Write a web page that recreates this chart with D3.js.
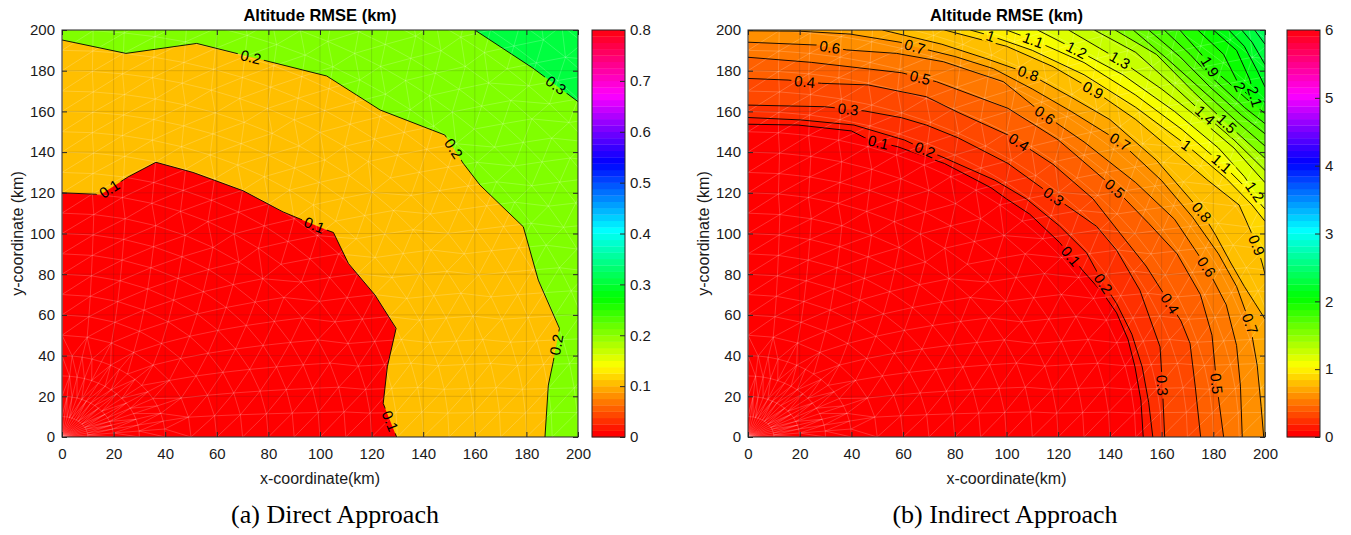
<!DOCTYPE html>
<html>
<head>
<meta charset="utf-8">
<script src="https://cdn.jsdelivr.net/npm/d3@7/dist/d3.min.js"></script>
<style>
  body { margin: 0; background: #fff; }
  svg text { font-family: "Liberation Sans", Arial, sans-serif; }
  svg text.caption { font-family: "Liberation Serif", "Times New Roman", serif; }
</style>
</head>
<body>
<svg id="chart" width="1351" height="535"></svg>
<script>
const axisTicks = [0, 20, 40, 60, 80, 100, 120, 140, 160, 180, 200];

// (a) direct approach: contour levels, traced contour lines [x, y] in km, label spots
const directLevels = [0.1, 0.2, 0.3];
const directLines = [
  [[0,120],[15,119.2],[25.6,127.8],[36.4,135],[50.8,130],[70.2,121],[85.7,110.6],[102.6,101.7],[105.2,100.5],[111,85.3],[121.3,69.8],[129.5,53.4],[126.1,34.5],[124.5,16.5],[129.7,0]],
  [[0,195.1],[24.8,188.5],[52.2,193.4],[102.6,177.4],[123.3,160.7],[148.4,148.4],[155.5,134.5],[162,123.8],[178.8,103.3],[184.6,77.1],[192.8,53.4],[190.4,37],[188.5,25.5],[187.2,0]],
  [[160,200],[182.6,181.2],[200,164.8]]
];
const directLabels = [
  [0.1, 18.6, 121.4], [0.1, 98, 104.7], [0.1, 126.5, 7.5],
  [0.2, 72.9, 185.3], [0.2, 151, 141], [0.2, 192.4, 45.2],
  [0.3, 191, 172.1]
];
const directBarTicks = [0, 0.1, 0.2, 0.3, 0.4, 0.5, 0.6, 0.7, 0.8];

// (b) indirect approach
const indirectLevels = [0.1,0.2,0.3,0.4,0.5,0.6,0.7,0.8,0.9,1.0,1.1,1.2,1.3,1.4,1.5,1.6,1.7,1.8,1.9,2.0,2.1,2.2,2.3,2.4];
const indirectLines = [
  [[0,153.7],[19.4,153.3],[40,150.4],[45,147.2],[50,145],[58,142.6],[76,134.4],[94,122.5],[100,117],[109,109.5],[120.6,95.5],[129.7,81.5],[137.4,70.5],[142.6,61],[147,48],[149.7,34.5],[152,18],[152.9,0]],
  [[0,157],[20.5,155.8],[41,153.3],[60.6,145.9],[68.4,141.2],[75,137.7],[95.5,126.2],[107.7,117],[120.6,103.6],[131,90.5],[137.4,75.6],[142.6,65.6],[148.5,50.5],[152.5,34.4],[155,17],[156.6,0]],
  [[0,163.1],[29.7,162.3],[45.2,160.2],[59.4,156.9],[69,153.3],[81.3,147],[100.6,134.4],[119,117.5],[134.8,103.6],[142.6,91.8],[151.6,72.1],[159.4,44.3],[160.3,25.4],[161.2,0]],
  [[0,176.2],[15.5,175.4],[28.4,173.8],[46.5,173],[69,167.2],[81.3,159.5],[100.6,148.4],[118,134],[133.5,117],[144,100],[154,84],[163.2,65.6],[167.5,57],[171,46],[173,25],[175.1,0]],
  [[0,186.6],[24.5,184.1],[59.4,179],[72.9,174.6],[100.6,161.5],[120,146],[141.9,122.1],[155,105],[166,90],[175,70],[179.5,50],[181.3,26],[184,0]],
  [[0,194],[26.6,192.6],[38.2,190.2],[57.5,188.5],[75.6,184.4],[98.8,174.6],[114.5,158.5],[130,145],[150,125],[165,107],[177.4,83.6],[185,65],[189,45],[190.5,25],[191.2,0]],
  [[0,199.6],[20.1,199.4],[39.5,198],[58.8,194],[64.5,191.8],[80,187],[95,181],[110,171],[125,160],[143.9,145.1],[160,126],[172,108],[182,90],[189,74],[194.2,55.7],[197,35],[198.5,15],[199.5,0]],
  [[52,200],[75,193],[92,186],[108.4,178.7],[125,167],[140,156],[158,136],[175.5,110.5],[181,99],[187,85],[192,74],[196,66],[200,58]],
  [[76,200],[100,192],[118,182],[133.5,170.5],[150,156],[165,140],[178,126],[190,114],[193.5,104],[196.8,94.3],[199,85],[200,80]],
  [[86,200],[93,197.5],[110,190],[130,178],[150,162],[169.7,143.4],[185,127],[195,114],[200,106]],
  [[100,200],[110.3,195.1],[130,184],[150,168],[168,151],[183.2,134.4],[193,122],[200,112]],
  [[112,200],[127.1,190.2],[145,178],[165,160],[182,142],[192,128],[196.1,120.5],[200,116]],
  [[124,200],[143.9,185.2],[160,171],[175,156],[188,142],[200,125]],
  [[134,200],[150,189],[165,172],[176.8,158.2],[188,146],[200,131]],
  [[142,200],[158,188],[172,170],[185.2,154.1],[200,137]],
  [[149,200],[162,186],[178.7,167],[190,154],[200,143]],
  [[155,200],[167,187],[178.7,172],[191,158],[200,149]],
  [[161,200],[171,188],[178.7,177.5],[192,162],[200,154]],
  [[167,200],[176.8,186],[178.7,182],[186,174],[193,166],[200,159]],
  [[174,200],[184,188],[190.3,172.1],[195,166],[200,162]],
  [[180,200],[189,190],[194,176],[196.1,167.2],[200,164.5]],
  [[186,200],[192,192],[197,180],[200,172]],
  [[191,200],[195,194],[200,183]],
  [[196,200],[200,193]]
];
const indirectLabels = [
  [0.6, 31.6, 191], [0.4, 21.9, 173.8], [0.3, 38.7, 160.7], [0.1, 50.3, 144.3],
  [0.2, 68.4, 141], [0.5, 66.5, 176.2], [0.7, 64.5, 191.8], [1.0, 94, 197.5],
  [1.1, 110.3, 195.1], [1.2, 127.1, 190.2], [1.3, 143.9, 185.2], [1.9, 178.7, 182],
  [2.0, 190.3, 172.1], [2.1, 196.1, 167.2], [0.8, 108.4, 178.7], [0.9, 133.5, 170.5],
  [1.4, 176.8, 158.2], [1.5, 185.2, 154.1], [0.6, 114.8, 158.2], [0.4, 104.5, 144.3],
  [0.7, 143.9, 145.1], [1.0, 169.7, 143.4], [1.1, 183.2, 134.4], [1.2, 196.1, 120.5],
  [0.3, 118.1, 118], [0.5, 141.9, 122.1], [0.8, 175.5, 110.5], [0.1, 124.5, 88.5],
  [0.2, 137.4, 75.4], [0.4, 163.2, 65.6], [0.6, 177.4, 83.6], [0.9, 196.8, 94.3],
  [0.7, 194.2, 55.7], [0.3, 160, 25.4], [0.5, 181.3, 26.2]
];
const indirectBarTicks = [0, 1, 2, 3, 4, 5, 6];

// triangulated sample rings (km) and node count per quarter ring
const meshRadii = [10,20,30,40,50,60,70,80,90,100,110,120,130,140,150,160,170,180,190,200,210,220,230,240,250,260,270,280,290];
const meshCounts = [17,17,17,17,9,10,11,12,13,14,15,17,18,19,21,22,23,25,26,27,28,30,31,32,34,35,36,38,39];

const svg = d3.select("#chart");
const defs = svg.append("defs");
const plotTop = 30, plotBottom = 437;
const fmt = d => String(+d.toFixed(1));

function bandColor(v, vmax) {
  const i = Math.max(0, Math.min(63, Math.floor(v / vmax * 64 + 1e-9)));
  return d3.hsl(i * 360 / 64, 1, 0.5).formatHex();
}

const meshPoints = [[0, 0]];
meshRadii.forEach((r, k) => {
  const n = meshCounts[k];
  for (let j = 0; j < n; j++) {
    const a = (Math.PI / 2) * j / (n - 1);
    meshPoints.push([r * Math.cos(a), r * Math.sin(a)]);
  }
});
const meshDelaunay = d3.Delaunay.from(meshPoints);

function panel(p) {
  const x = d3.scaleLinear().domain([0, 200]).range([p.left, p.right]);
  const y = d3.scaleLinear().domain([0, 200]).range([plotBottom, plotTop]);
  const g = svg.append("g");

  defs.append("clipPath").attr("id", p.id + "-clip")
    .append("rect").attr("x", p.left).attr("y", plotTop)
    .attr("width", p.right - p.left).attr("height", plotBottom - plotTop);

  const plot = g.append("g").attr("clip-path", `url(#${p.id}-clip)`);
  plot.append("rect").attr("x", p.left).attr("y", plotTop)
    .attr("width", p.right - p.left).attr("height", plotBottom - plotTop)
    .attr("fill", bandColor(0, p.vmax));

  // filled bands: everything beyond each contour line toward the far corner
  const line = d3.line().x(d => x(d[0])).y(d => y(d[1]));
  const outside = [[300, -100], [300, 300], [-100, 300]];
  p.levels.forEach((lv, i) => {
    plot.append("path")
      .attr("d", line(p.lines[i].concat(outside)) + "Z")
      .attr("fill", bandColor(lv, p.vmax));
  });

  // faint triangle mesh
  const mesh = d3.path();
  meshDelaunay.render({
    moveTo: (a, b) => mesh.moveTo(x(a), y(b)),
    lineTo: (a, b) => mesh.lineTo(x(a), y(b)),
    closePath: () => mesh.closePath()
  });
  plot.append("path").attr("d", mesh.toString())
    .attr("fill", "none").attr("stroke", "#fff")
    .attr("stroke-opacity", 0.28).attr("stroke-width", 0.7);

  // grid
  plot.append("g").selectAll("line").data(axisTicks).join("line")
    .attr("x1", d => x(d)).attr("x2", d => x(d)).attr("y1", plotTop).attr("y2", plotBottom)
    .attr("stroke", "#262626").attr("stroke-opacity", 0.15);
  plot.append("g").selectAll("line").data(axisTicks).join("line")
    .attr("y1", d => y(d)).attr("y2", d => y(d)).attr("x1", p.left).attr("x2", p.right)
    .attr("stroke", "#262626").attr("stroke-opacity", 0.15);

  // contour lines, broken where labels sit
  const mask = defs.append("mask").attr("id", p.id + "-mask")
    .attr("maskUnits", "userSpaceOnUse")
    .attr("x", 0).attr("y", 0).attr("width", 1351).attr("height", 535);
  mask.append("rect").attr("width", 1351).attr("height", 535).attr("fill", "#fff");

  plot.append("g").attr("mask", `url(#${p.id}-mask)`)
    .selectAll("path").data(p.lines).join("path")
    .attr("d", line).attr("fill", "none")
    .attr("stroke", "#000").attr("stroke-width", 0.9);

  const labelG = plot.append("g");
  p.labels.forEach(([lv, lx, ly]) => {
    const pts = p.lines[p.levels.indexOf(lv)].map(d => [x(d[0]), y(d[1])]);
    const tx = x(lx), ty = y(ly);
    let best = null;
    for (let k = 0; k < pts.length - 1; k++) {
      const [ax, ay] = pts[k], [bx, by] = pts[k + 1];
      const dx = bx - ax, dy = by - ay;
      const len = dx * dx + dy * dy;
      if (!len) continue;
      const t = Math.max(0, Math.min(1, ((tx - ax) * dx + (ty - ay) * dy) / len));
      const px = ax + t * dx, py = ay + t * dy;
      const dist = (px - tx) ** 2 + (py - ty) ** 2;
      if (!best || dist < best.dist) best = { dist, px, py, ang: Math.atan2(dy, dx) * 180 / Math.PI };
    }
    let ang = best.ang;
    if (ang > 90) ang -= 180;
    if (ang < -90) ang += 180;
    const tr = `translate(${best.px},${best.py}) rotate(${ang})`;
    const txt = labelG.append("text").attr("transform", tr)
      .attr("text-anchor", "middle").attr("dy", "0.36em")
      .attr("font-size", 15).attr("fill", "#000").text(fmt(lv));
    const w = txt.node().getComputedTextLength() + 6;
    mask.append("rect").attr("transform", tr)
      .attr("x", -w / 2).attr("y", -7).attr("width", w).attr("height", 14).attr("fill", "#000");
  });

  // axes
  const tickStyle = s => s.call(a => a.select(".domain").remove())
    .call(a => a.selectAll("line").attr("stroke", "#262626"))
    .call(a => a.selectAll("text").attr("font-size", 15).attr("fill", "#1a1a1a"));
  g.append("g").attr("transform", `translate(0,${plotBottom})`)
    .call(d3.axisBottom(x).tickValues(axisTicks).tickSize(-5).tickPadding(11)).call(tickStyle);
  g.append("g").attr("transform", `translate(0,${plotTop})`)
    .call(d3.axisTop(x).tickValues(axisTicks).tickSize(-5).tickFormat("")).call(tickStyle);
  g.append("g").attr("transform", `translate(${p.left},0)`)
    .call(d3.axisLeft(y).tickValues(axisTicks).tickSize(-5).tickPadding(7)).call(tickStyle);
  g.append("g").attr("transform", `translate(${p.right},0)`)
    .call(d3.axisRight(y).tickValues(axisTicks).tickSize(-5).tickFormat("")).call(tickStyle);
  g.append("rect").attr("x", p.left).attr("y", plotTop)
    .attr("width", p.right - p.left).attr("height", plotBottom - plotTop)
    .attr("fill", "none").attr("stroke", "#262626").attr("stroke-width", 1);

  g.append("text").attr("x", (p.left + p.right) / 2).attr("y", 21)
    .attr("text-anchor", "middle").attr("font-size", 16.5).attr("font-weight", "bold")
    .text("Altitude RMSE (km)");
  g.append("text").attr("x", (p.left + p.right) / 2).attr("y", 484)
    .attr("text-anchor", "middle").attr("font-size", 16).attr("fill", "#1a1a1a")
    .text("x-coordinate(km)");
  g.append("text").attr("transform", `translate(${p.left - 39},${(plotTop + plotBottom) / 2}) rotate(-90)`)
    .attr("text-anchor", "middle").attr("font-size", 16).attr("fill", "#1a1a1a")
    .text("y-coordinate (km)");
  g.append("text").attr("class", "caption").attr("x", p.caption[0]).attr("y", 523)
    .attr("text-anchor", "middle").attr("font-size", 26).attr("fill", "#000")
    .text(p.caption[1]);

  // colorbar
  const cb = d3.scaleLinear().domain([0, p.vmax]).range([plotBottom, plotTop]);
  const bands = d3.range(64);
  g.append("g").selectAll("rect").data(bands).join("rect")
    .attr("x", p.barLeft).attr("width", p.barRight - p.barLeft)
    .attr("y", i => cb((i + 1) / 64 * p.vmax)).attr("height", (plotBottom - plotTop) / 64 + 0.3)
    .attr("fill", i => d3.hsl(i * 360 / 64, 1, 0.5).formatHex());
  g.append("rect").attr("x", p.barLeft).attr("y", plotTop)
    .attr("width", p.barRight - p.barLeft).attr("height", plotBottom - plotTop)
    .attr("fill", "none").attr("stroke", "#262626");
  g.append("g").attr("transform", `translate(${p.barRight},0)`)
    .call(d3.axisRight(cb).tickValues(p.barTicks).tickSize(-5).tickPadding(5).tickFormat(fmt))
    .call(tickStyle);
}

panel({
  id: "direct", left: 62, right: 578, barLeft: 592, barRight: 625, vmax: 0.8,
  levels: directLevels, lines: directLines, labels: directLabels, barTicks: directBarTicks,
  caption: [335, "(a) Direct Approach"]
});
panel({
  id: "indirect", left: 748, right: 1265, barLeft: 1287, barRight: 1320, vmax: 6,
  levels: indirectLevels, lines: indirectLines, labels: indirectLabels, barTicks: indirectBarTicks,
  caption: [1005, "(b) Indirect Approach"]
});
</script>
</body>
</html>
